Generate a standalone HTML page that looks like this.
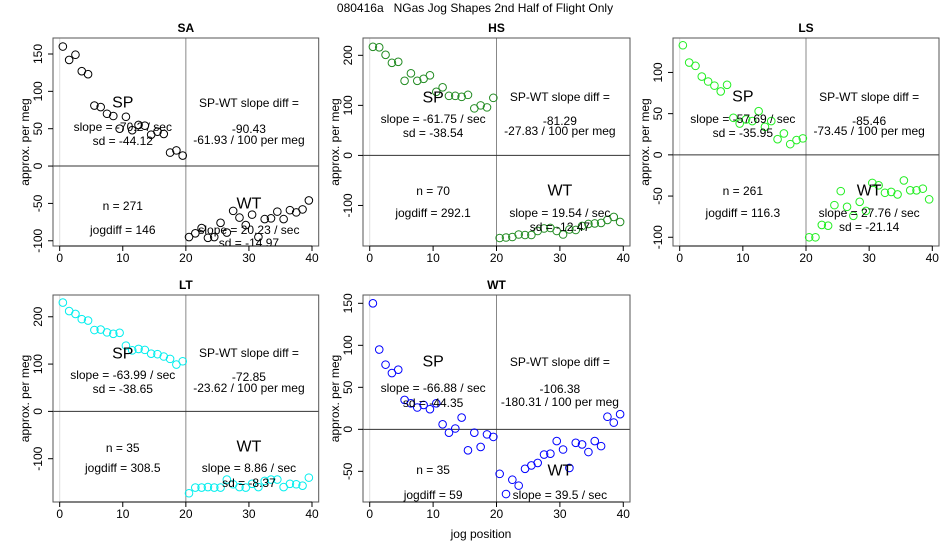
<!DOCTYPE html>
<html><head><meta charset="utf-8"><style>
body{margin:0;background:#fff}
svg{display:block;font-family:"Liberation Sans",sans-serif}
</style></head><body>
<svg id="c" width="950" height="550" viewBox="0 0 950 550">
<text x="475" y="12" text-anchor="middle" font-size="12" style="white-space:pre" xml:space="preserve">080416a   NGas Jog Shapes 2nd Half of Flight Only</text>
</svg>
<script>
const jogPositions=[0.5,1.5,2.5,3.5,4.5,5.5,6.5,7.5,8.5,9.5,10.5,11.5,12.5,13.5,14.5,15.5,16.5,17.5,18.5,19.5,20.5,21.5,22.5,23.5,24.5,25.5,26.5,27.5,28.5,29.5,30.5,31.5,32.5,33.5,34.5,35.5,36.5,37.5,38.5,39.5];
const xTicks=[0,10,20,30,40];
const saValues=[160,142,149,127,123,81,79,70,67,50,66,48,55,54,42,46,43,18,21,14,-95,-90,-83,-96,-95,-76,-89,-60,-69,-79,-65,-95,-71,-70,-61,-71,-59,-62,-58,-46];
const hsValues=[217,216,201,185,187,149,164,149,153,160,127,136,119,119,117,121,94,100,96,115,-165,-164,-163,-158,-159,-159,-151,-146,-145,-151,-158,-148,-149,-141,-137,-136,-135,-129,-123,-133];
const lsValues=[133,112,108,95,89,84,77,85,45,38,43,41,53,34,41,19,26,13,18,20,-100,-100,-85,-86,-61,-44,-63,-74,-57,-68,-34,-37,-46,-45,-48,-31,-43,-43,-41,-54];
const ltValues=[230,212,206,195,192,172,173,167,164,166,139,129,132,130,122,121,116,111,99,106,-173,-161,-161,-160,-161,-161,-144,-154,-160,-161,-153,-160,-147,-144,-144,-160,-153,-154,-157,-140];
const wtValues=[150,95,77,67,71,35,31,26,29,24,31,6,-4,1,14,-25,-4,-21,-6,-9,-53,-77,-60,-67,-47,-43,-40,-30,-29,-14,-24,-46,-16,-18,-27,-14,-20,15,8,18];
const saTicks=[-100,-50,0,50,100,150];
const hsTicks=[-100,0,100,200];
const lsTicks=[-100,-50,0,50,100];
const ltTicks=[-100,0,100,200];
const wtTicks=[-50,0,50,100,150];
const panelNames=["SA","HS","LS","LT","WT"];
const saStats=["-70.2 / sec","-44.12","-90.43","-61.93","271","146","20.23 / sec","-14.97"];
const hsStats=["-61.75 / sec","-38.54","-81.29","-27.83","70","292.1","19.54 / sec","-12.47"];
const lsStats=["-57.69 / sec","-35.95","-85.46","-73.45","261","116.3","27.76 / sec","-21.14"];
const ltStats=["-63.99 / sec","-38.65","-72.85","-23.62","35","308.5","8.86 / sec","-8.37"];
const wtStats=["-66.88 / sec","-44.35","-106.38","-180.31","35","59","39.5 / sec","-20.1"];

const NS="http://www.w3.org/2000/svg";
const svg=document.getElementById('c');
function mk(tag,attrs,parent){const e=document.createElementNS(NS,tag);for(const k in attrs)e.setAttribute(k,attrs[k]);(parent||svg).appendChild(e);return e;}

const panels=[
 {vals:saValues,ticks:saTicks,stats:saStats,col:"#000",L:53,R:318.7,T:38,B:246,ylim:[-107,171.4],ty:[103,127,141,103,129,140,206,230,204,230,243]},
 {vals:hsValues,ticks:hsTicks,stats:hsStats,col:"#228B22",L:363,R:630,T:38,B:246,ylim:[-181,234.6],ty:[98,119,133,97,121,131,191,213,191,213,227]},
 {vals:lsValues,ticks:lsTicks,stats:lsStats,col:"#22ee22",L:673,R:939,T:38,B:246,ylim:[-110.6,141.8],ty:[97,119,133,97,121,131,191,213,191,213,227]},
 {vals:ltValues,ticks:ltTicks,stats:ltStats,col:"#00eeee",L:53,R:318.7,T:295,B:502,ylim:[-191.5,246],ty:[354,375,389,353,377,388,448,468,447,468,483]},
 {vals:wtValues,ticks:wtTicks,stats:wtStats,col:"#0000ff",L:363,R:630,T:295,B:502,ylim:[-86.5,159.9],ty:[362,388,403,362,389,402,470,495,471,495,510]}
];

panels.forEach((p,i)=>{
 const name=panelNames[i].toLowerCase();
 const g=mk('g',{});
 
 
 const xs=v=>p.L+(v+1.06)/42.12*(p.R-p.L);
 const ys=v=>p.B-(v-p.ylim[0])/(p.ylim[1]-p.ylim[0])*(p.B-p.T);
 const cid='clip'+i;
 const cp=mk('clipPath',{id:cid},g);mk('rect',{x:p.L,y:p.T,width:p.R-p.L,height:p.B-p.T},cp);
 const t=mk('text',{x:(p.L+p.R)/2,y:p.T-6,'text-anchor':'middle','font-size':12,'font-weight':'bold'},g);t.textContent=panelNames[i];
 
 
 const inner=mk('g',{'clip-path':'url(#'+cid+')'},g);
 mk('line',{x1:xs(0),x2:xs(0),y1:p.T,y2:p.B,stroke:'#ddd','stroke-width':1},inner);
 const vl=mk('line',{x1:xs(20),x2:xs(20),y1:p.T,y2:p.B,stroke:'#888','stroke-width':1},inner);
 
 
 const hl=mk('line',{x1:p.L,x2:p.R,y1:ys(0),y2:ys(0),stroke:'#333','stroke-width':1},inner);
 
 
 p.vals.forEach((v,j)=>{
  const c=mk('circle',{cx:xs(jogPositions[j]),cy:ys(v),r:3.8,fill:'none',stroke:p.col,'stroke-width':1},inner);
  
  
 });
 const s=p.stats, ty=p.ty;
 const texts=[["SP",10,ty[0],16],["slope = "+s[0],10,ty[1],12],["sd = "+s[1],10,ty[2],12],
  ["SP-WT slope diff =",30,ty[3],12],[s[2],30,ty[4],12],[s[3]+" / 100 per meg",30,ty[5],12],
  ["n = "+s[4],10,ty[6],12],["jogdiff = "+s[5],10,ty[7],12],["WT",30,ty[8],16],["slope = "+s[6],30,ty[9],12],["sd = "+s[7],30,ty[10],12]];
 texts.forEach((a,k)=>{
  const e=mk('text',{x:xs(a[1]),y:a[2],'text-anchor':'middle','dominant-baseline':'central','font-size':a[3],fill:'#000'},inner);
  e.textContent=a[0];
  
  
 });
 const box=mk('rect',{x:p.L,y:p.T,width:p.R-p.L,height:p.B-p.T,fill:'none',stroke:'#555','stroke-width':1},g);
 
 
 const xa=mk('g',{},g);
 
 
 mk('line',{x1:xs(0),x2:xs(40),y1:p.B,y2:p.B,stroke:'#000'},xa);
 xTicks.forEach(v=>{
  mk('line',{x1:xs(v),x2:xs(v),y1:p.B,y2:p.B+5,stroke:'#000'},xa);
  const e=mk('text',{x:xs(v),y:p.B+16,'text-anchor':'middle','font-size':12},xa);e.textContent=v;
 });
 const ya=mk('g',{},g);
 
 
 const lx=p.L-11;
 p.ticks.forEach(v=>{
  mk('line',{x1:p.L-5,x2:p.L,y1:ys(v),y2:ys(v),stroke:'#000'},ya);
  const e=mk('text',{x:lx,y:ys(v),'text-anchor':'middle','font-size':12,transform:'rotate(-90 '+lx+' '+ys(v)+')'},ya);e.textContent=v;
 });
 const tx=p.L-24;
 const yt=mk('text',{x:tx,y:(p.T+p.B)/2,'text-anchor':'middle','font-size':12,transform:'rotate(-90 '+tx+' '+((p.T+p.B)/2)+')'},g);
 yt.textContent="approx. per meg";
 
 
});
const xl=mk('text',{x:481,y:538,'text-anchor':'middle','font-size':12});
xl.textContent="jog position";


</script>
</body></html>
